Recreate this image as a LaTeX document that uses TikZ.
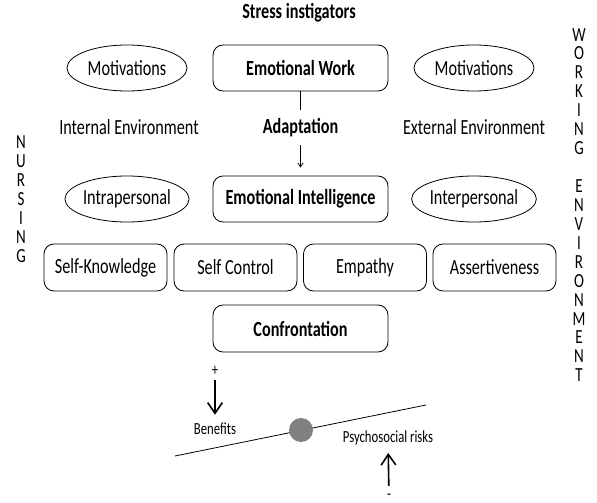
\documentclass[tikz,border=0pt]{standalone}
\usepackage{fontspec}
\setmainfont[FakeStretch=0.75]{Carlito}
\usetikzlibrary{shapes.geometric,arrows.meta}
\definecolor{pivotgray}{RGB}{128,128,128}

\begin{document}
\begin{tikzpicture}[x=0.75pt,y=0.75pt,yscale=-1,line width=0.6pt,
	every node/.style={font=\fontsize{16.2pt}{19pt}\selectfont},
	oval/.style={draw,ellipse,inner sep=0pt,minimum width=90pt,minimum height=34.5pt},
	widebox/.style={draw,rounded corners=7.5pt,minimum width=131.25pt,minimum height=34.5pt},
	skillbox/.style={draw,rounded corners=7.5pt,minimum width=92.25pt,minimum height=35.25pt},
	smalltext/.style={font=\fontsize{12.7pt}{15pt}\selectfont,inner sep=0pt},
	letters/.style={align=center,inner sep=0pt,font=\fontsize{15pt}{14.2pt}\selectfont},
	heavy/.style={line width=1.2pt,-{Straight Barb[length=8pt,width=11pt]}}]
		\useasboundingbox (0,0) rectangle (597,503);
		
		% Text Node
		\node (stress) at (299,13) {\bfseries Stress instigators};
		
		%Shape: Ellipse
		\node [oval] (motivL) at (127,68) {Motivations};
		%Shape: Rounded Rect
		\node [widebox] (work) at (300.5,68) {\bfseries Emotional Work};
		%Shape: Ellipse
		\node [oval] (motivR) at (474,68) {Motivations};
		
		% Text Node
		\node (internal) at (129,127) {Internal Environment};
		\node [inner sep=0pt,minimum height=26.25pt] (adapt) at (300.5,127.5) {\bfseries Adaptation};
		\node (external) at (474,127) {External Environment};
		
		%Shape: Ellipse
		\node [oval] (intra) at (127,199) {Intrapersonal};
		%Shape: Rounded Rect
		\node [widebox] (ei) at (300.5,199) {\bfseries Emotional Intelligence};
		%Shape: Ellipse
		\node [oval] (inter) at (474,199) {Interpersonal};
		
		%Straight Lines
		\draw (work) -- (adapt);
		\draw [-{Straight Barb[length=3pt,width=4pt]},shorten >=6pt] (adapt) -- (ei);
		
		%Shape: Rounded Rect
		\node [skillbox] (selfknow) at (105.5,267.5) {Self-Knowledge};
		\node [skillbox] (selfctrl) at (235.5,267.5) {Self Control};
		\node [skillbox] (empathy) at (365,267.5) {Empathy};
		\node [skillbox] (assert) at (494.5,267.5) {Assertiveness};
		%Shape: Rounded Rect
		\node [widebox,minimum height=35.25pt] (confront) at (300.5,328.5) {\bfseries Confrontation};
		
		% Text Node
		\node [letters] (nursing) at (21,199) {N\\U\\R\\S\\I\\N\\G};
		\node [letters] (working) at (579,205) {W\\O\\R\\K\\I\\N\\G\\[14.2pt]E\\N\\V\\I\\R\\O\\N\\M\\E\\N\\T};
		
		%Straight Lines
		\coordinate (beamL) at (175,456);
		\coordinate (beamR) at (426,405);
		\draw (beamL) -- (beamR);
		%Shape: Circle
		\node [circle,fill=pivotgray,inner sep=0pt,minimum size=18pt] (pivot) at (301,430) {};
		
		% Text Node
		\node [smalltext] (plus) at (215,371) {+};
		\node [smalltext] (benefits) at (215,429) {Benefits};
		\node [smalltext] (risks) at (388,438) {Psychosocial risks};
		\node [smalltext] (minus) at (389,497) {-};
		
		%Straight Lines
		\draw [heavy,shorten <=3pt,shorten >=6pt] (plus) -- (benefits);
		\draw [heavy,shorten <=6pt,shorten >=5.5pt] (minus) -- (risks);
\end{tikzpicture}
\end{document}
